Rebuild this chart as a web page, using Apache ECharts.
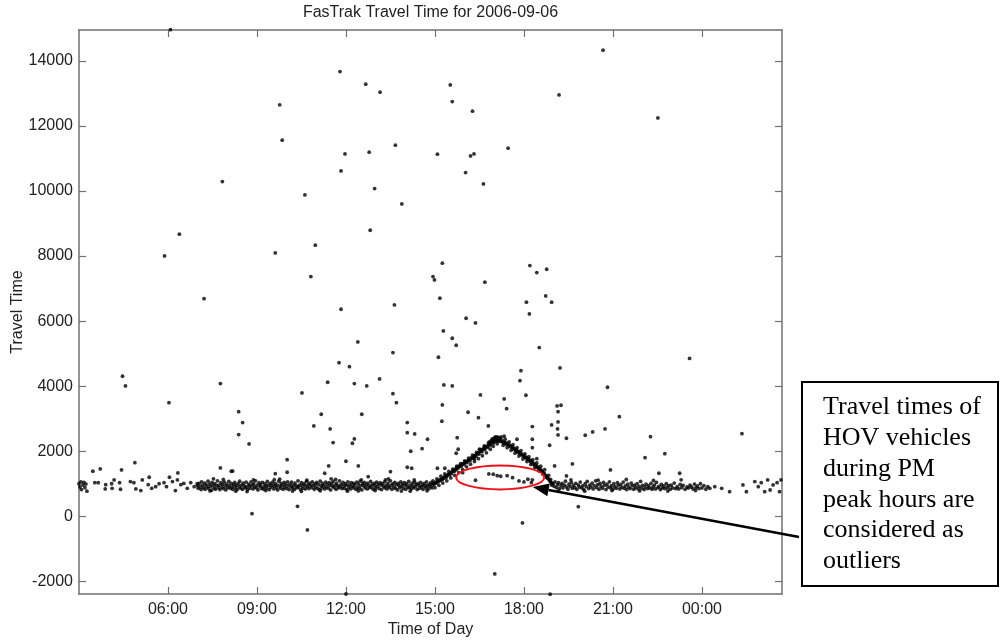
<!DOCTYPE html>
<html>
<head>
<meta charset="utf-8">
<script src="https://cdn.jsdelivr.net/npm/echarts@6/dist/echarts.min.js"></script>
<style>
html,body{margin:0;padding:0;background:#fff;}
#chart{width:1000px;height:640px;}
</style>
</head>
<body>
<div id="chart"></div>
<script>
// ---- Data (x = minutes since midnight of 2006-09-06, y = travel time) ----
const TITLE = 'FasTrak Travel Time for 2006-09-06';
const X_NAME = 'Time of Day';
const Y_NAME = 'Travel Time';
const X_TICKS = [360, 540, 720, 900, 1080, 1260, 1440];
const X_TICK_LABELS = ['06:00', '09:00', '12:00', '15:00', '18:00', '21:00', '00:00'];
const Y_TICKS = [-2000, 0, 2000, 4000, 6000, 8000, 10000, 12000, 14000];
const X_MIN = 180, X_MAX = 1602, Y_MIN = -2390, Y_MAX = 14950;

const bandEarly = [[180,1000],[182,900],[184,1060],[185,820],[188,960],[190,1040],[192,880],[194,990],[196,770],
[212,1034],[219,1034],[233,840],[234,970],[246,1000],[251,1117],[247,860],[262,1034],[264,830],[284,1065],[291,1034],
[295,840],[305,790],[308,1117],[322,1200],[320,970],[327,860],[335,910],[342,1000],[352,1034],[357,910],[363,1200],
[369,1065],[375,790],[379,1117],[386,970],[392,1010],[399,860],[406,1034],[413,910],[419,1000]];

const bandDay = [[420,940],[421,860],[423,1010],[425,900],[427,820],[428,1060],[430,950],[432,880],[434,1020],[435,830],[437,970],[439,910],
[441,1080],[442,850],[444,990],[446,920],[448,800],[449,1040],[451,960],[453,870],[455,1000],[456,830],[458,940],[460,1090],
[462,880],[463,960],[465,820],[467,1030],[469,900],[470,980],[472,850],[474,1050],[476,930],[477,810],[479,990],[481,880],
[483,1070],[484,940],[486,860],[488,1010],[490,900],[491,830],[493,970],[495,1040],[497,880],[498,950],[500,820],[502,1000],
[504,910],[505,1080],[507,860],[509,960],[511,830],[512,1020],[514,940],[516,880],[518,1050],[519,900],[521,820],[523,990],
[525,930],[526,860],[528,1060],[530,950],[532,840],[533,1000],[535,900],[537,1090],[539,870],[540,960],[542,810],[544,1030],
[546,920],[547,980],[549,850],[551,1040],[553,900],[554,830],[556,1000],[558,940],[560,870],[561,1070],[563,960],[565,820],
[567,1010],[568,890],[570,950],[572,1050],[574,840],[575,930],[577,1000],[579,870],[581,960],[582,810],[584,1080],[586,920],
[588,860],[589,1010],[591,950],[593,830],[595,1040],[596,900],[598,980],[600,850],[602,1060],[603,930],[605,820],[607,990],
[609,910],[610,1050],[612,870],[614,960],[616,830],[617,1020],[619,940],[621,880],[623,1090],[624,900],[626,960],[628,820],
[630,1030],[631,930],[633,860],[635,1000],[637,950],[638,840],[640,1070],[642,910],[644,980],[645,850],[647,1020],[649,940],
[651,880],[652,1060],[654,960],[656,830],[658,1000],[659,900],[661,1040],[663,860],[665,970],[666,820],[668,1080],[670,930],
[672,870],[673,1010],[675,950],[677,840],[679,1050],[680,900],[682,990],[684,860],[686,1030],[687,940],[689,810],[691,1000],
[693,920],[694,1070],[696,880],[698,960],[700,830],[701,1020],[703,940],[705,870],[707,1090],[708,910],[710,980],[712,850],
[714,1040],[715,930],[717,860],[719,1000],[721,950],[722,820],[724,1060],[726,900],[728,970],[729,840],[731,1030],[733,920],
[735,870],[736,1010],[738,960],[740,830],[742,1050],[743,890],[745,990],[747,860],[749,1080],[750,940],[752,810],[754,1000],
[756,930],[757,1040],[759,870],[761,960],[763,840],[764,1020],[766,950],[768,880],[770,1070],[771,900],[773,980],[775,830],
[777,1010],[778,940],[780,860],[782,1050],[784,920],[785,990],[787,850],[789,1030],[791,960],[792,820],[794,1000],[796,910],
[798,1060],[799,870],[801,950],[803,840],[805,1020],[806,930],[808,880],[810,1090],[812,960],[813,830],[815,1000],[817,900],
[819,1040],[820,860],[822,970],[824,810],[826,1010],[827,940],[829,880],[831,1060],[833,920],[834,990],[836,850],[838,1030],
[840,950],[841,830],[843,1000],[845,900],[847,1070],[848,880],[850,960],[852,840],[854,1020],[855,930],[857,870],[859,1050],
[861,910],[862,980],[864,820],[866,1000],[868,940],[869,860],[871,1040],[873,900],[875,960],[876,830],[878,1010],[880,930],
[882,880],[883,1060],[885,950],[887,840],[889,990],[890,910],[892,1030],[894,870]];

const bandEdge = [[445,780],[472,1130],[497,770],[533,1120],[558,790],[586,1140],[612,775],[641,1110],[668,785],[699,1135],
[723,770],[751,1120],[779,790],[806,1145],[832,775],[858,1115],[884,785],[452,1150],[520,760],[575,1125],[630,765],[690,1150],
[745,780],[800,1120],[850,770],[1150,780],[1175,1120],[1203,770],[1230,1110],[1258,790],[1287,1130],[1314,780],[1342,1100],
[1371,775],[1398,1120],[1427,790]];

const peakRise = [[895,960],[897,1010],[899,990],[901,1040],[903,1020],[905,1080],[907,1060],[909,1110],[911,1100],[913,1150],
[915,1130],[917,1190],[919,1170],[921,1230],[923,1200],[925,1260],[927,1290],[929,1270],[931,1330],[933,1310],[935,1370],
[937,1400],[939,1380],[941,1450],[943,1430],[945,1500],[947,1480],[949,1540],[951,1560],[953,1530],[955,1600],[957,1620],
[959,1590],[961,1660],[963,1680],[965,1650],[967,1720],[969,1740],[971,1710],[973,1790],[975,1800],[977,1780],[979,1850],
[981,1870],[983,1840],[985,1920],[987,1940],[989,1910],[991,1990],[993,2010],[995,1980],[997,2060],[999,2080],[1001,2050],
[1003,2130],[1005,2150],[1007,2120],[1009,2200],[1011,2220],[1013,2190],[1015,2260],[1017,2280],[1019,2250],[1021,2320],
[1023,2340],[1025,2300],[1027,2360],[1029,2330],[1010,2290],[1016,2380],[1020,2400],[1024,2420],[1028,2410],[1032,2380],
[1018,2150],[1026,2230],[1000,2160],[990,2060],[980,1760]];

const peakRiseB = [[896,1090],[900,880],[904,1150],[908,950],[912,1230],[916,1020],[920,1300],[924,1090],[928,1380],[932,1180],
[936,1450],[940,1260],[944,1540],[948,1340],[952,1620],[956,1430],[960,1700],[964,1520],[968,1790],[972,1600],[976,1880],
[980,1680],[984,1960],[988,1770],[992,2050],[996,1860],[1000,2140],[1004,1950],[1008,2250],[1012,2060],[1014,2330],
[1018,2350],[1022,2440],[1026,2440],[1030,2420]];

const peakFall = [[1031,2310],[1033,2350],[1035,2290],[1037,2310],[1039,2260],[1041,2280],[1043,2230],[1045,2250],[1047,2190],
[1049,2210],[1051,2160],[1053,2170],[1055,2110],[1057,2130],[1059,2070],[1061,2080],[1063,2020],[1065,2040],[1067,1980],
[1069,1990],[1071,1930],[1073,1950],[1075,1890],[1077,1900],[1079,1840],[1081,1860],[1083,1800],[1085,1810],[1087,1750],
[1089,1770],[1091,1700],[1093,1720],[1095,1650],[1097,1670],[1099,1600],[1101,1610],[1103,1550],[1105,1560],[1107,1500],
[1109,1510],[1111,1450],[1113,1460],[1115,1400],[1117,1390],[1119,1330],[1121,1320],[1123,1260],[1125,1240],[1127,1190],
[1129,1160],[1131,1120],[1133,1080],[1135,1040],[1137,1010]];

const peakFallB = [[1034,2440],[1038,2180],[1042,2370],[1046,2110],[1050,2290],[1054,2030],[1058,2200],[1062,1940],[1066,2110],
[1070,1850],[1074,2020],[1078,1760],[1082,1920],[1086,1680],[1090,1830],[1094,1590],[1098,1740],[1102,1500],[1106,1640],
[1110,1400],[1114,1540],[1118,1300],[1122,1430],[1126,1190],[1130,1260],[1134,1130],[1136,960]];

const bandEvening = [[1139,1000],[1141,920],[1143,1060],[1146,880],[1148,970],[1150,1030],[1152,850],[1155,940],[1157,1010],[1159,870],[1162,960],[1164,1080],
[1166,900],[1169,830],[1171,990],[1173,920],[1176,1040],[1178,860],[1180,950],[1183,880],[1185,1010],[1187,830],[1190,960],[1192,900],
[1194,1050],[1197,870],[1199,940],[1201,820],[1204,1000],[1206,910],[1208,1070],[1211,850],[1213,960],[1215,900],[1218,1020],[1220,840],
[1222,940],[1225,1090],[1227,880],[1229,970],[1232,830],[1234,1010],[1236,920],[1239,860],[1241,1040],[1243,950],[1246,820],[1248,990],
[1250,900],[1253,1060],[1255,870],[1257,940],[1260,830],[1262,1000],[1264,910],[1267,860],[1269,1030],[1271,950],[1274,840],[1276,980],
[1278,890],[1281,1050],[1283,860],[1285,930],[1288,820],[1290,990],[1292,900],[1295,850],[1297,1020],[1299,940],[1302,830],[1304,960],
[1306,880],[1309,1000],[1311,840],[1313,920],[1316,1070],[1318,860],[1320,950],[1323,820],[1325,900],[1327,990],[1330,850],[1332,940],
[1334,870],[1337,1010],[1339,830],[1341,900],[1344,960],[1346,840],[1348,1040],[1351,880],[1353,920],[1356,820],[1358,980],[1360,870],
[1363,930],[1365,850],[1368,1000],[1370,880],[1373,940],[1376,830],[1378,960],[1381,870],[1384,1020],[1387,850],[1390,910],[1393,840],
[1396,980],[1399,880],[1402,950],[1406,830],[1410,900],[1413,870],[1416,960],[1419,900],[1422,840],[1425,990],[1428,880],[1431,930],
[1434,850],[1437,1000],[1440,870],[1444,940],[1448,830],[1452,910],[1456,860]];

const bandLate = [[1466,910],[1480,860],[1496,757],[1523,962],[1530,757],[1547,1065],[1554,910],[1560,1034],[1567,757],
[1573,1117],[1578,808],[1584,962],[1592,1034],[1597,757],[1600,1117]];

const hovPoints = [[956,1341],[982,1107],[1009,1301],[1018,1291],[1026,1248],[1033,1230],[1046,1248],[1057,1187],
[1070,1085],[1080,1055],[1088,1138],[1095,1033],[1097,1120]];

const outliers = [[365,14960],[586,12648],[591,11562],[470,10290],[637,9880],[383,8672],[353,8004],[577,8097],[658,8333],
[649,7368],[433,6691],[708,13672],[760,13284],[789,13038],[931,13262],[935,12749],[976,12454],[820,11408],[718,11141],
[767,11193],[905,11131],[972,11080],[979,11141],[1048,11316],[710,10618],[962,10566],[998,10218],[778,10074],[833,9603],
[769,8794],[915,7780],[896,7368],[899,7266],[1001,7196],[1092,7706],[1106,7491],[910,6704],[1085,6581],[710,6365],
[818,6497],[1091,6221],[1240,14330],[1151,12955],[1351,12248],[1126,7595],[1124,6774],[1136,6581],[268,4305],[274,4007],
[466,4078],[362,3493],[503,3217],[511,2879],[503,2510],[524,2223],[631,3791],[655,2777],[293,1649],[208,1384],[223,1454],
[266,1424],[380,1331],[466,1485],[488,1384],[491,1390],[601,1741],[601,1353],[577,1310],[530,80],[622,307],[642,-421],
[963,6088],[982,5944],[744,5360],[917,5698],[935,5473],[943,5258],[907,4889],[815,5031],[706,4723],[727,4600],[683,4120],
[737,4078],[762,4007],[788,4222],[815,3770],[822,3493],[918,4037],[935,4007],[915,3422],[914,2921],[992,3730],[967,3198],
[988,3032],[1008,2777],[1040,3607],[1045,3309],[1074,4477],[1072,4170],[1084,3721],[1111,5185],[670,3136],[688,2685],
[694,2264],[737,2377],[733,2245],[752,3136],[720,1691],[745,1547],[685,1547],[677,1322],[844,2879],[844,2571],[859,2531],
[851,1999],[874,2079],[885,2368],[844,1507],[853,1476],[810,1371],[765,1218],[905,1476],[920,1476],[945,2417],[943,1937],
[947,2060],[1097,2368],[1097,2109],[1066,2368],[1040,2460],[1077,-206],[1021,-1774],[720,-2390],[1153,4560],[1249,3967],
[1415,4852],[1273,3063],[1147,3392],[1155,3413],[1149,3217],[1149,2900],[1136,2808],[1148,2685],[1149,2500],[1166,2398],
[1132,2183],[1097,2756],[1204,2491],[1219,2592],[1244,2685],[1336,2448],[1365,1925],[1325,1802],[1521,2540],[1178,1608],
[1142,1547],[1106,1772],[1255,1424],[1166,1239],[1353,1322],[1395,1322],[1190,295],[1133,-2398]];

const NOTE_LINES = ['Travel times of', 'HOV vehicles', 'during PM', 'peak hours are', 'considered as', 'outliers'];
const ELLIPSE_CENTER = [1032, 1195];
const ARROW_TIP = [1098, 900];

// ---- Chart ----
const FONT = '"Liberation Sans", Arial, sans-serif';
const AXIS_COLOR = '#707070';
const chart = echarts.init(document.getElementById('chart'), null, {renderer: 'canvas'});
const fmtX = v => { const i = X_TICKS.indexOf(v); return i >= 0 ? X_TICK_LABELS[i] : ''; };
const fmtY = v => String(v);

const allPoints = [].concat(bandEarly, bandDay, bandEdge, peakRise, peakRiseB, peakFall, peakFallB, bandEvening, bandLate, hovPoints, outliers);

const grid = {left: 79, top: 30, width: 703, height: 564, containLabel: false, outerBoundsMode: 'none'};
const tickStyle = {show: true, inside: true, length: 7, lineStyle: {color: AXIS_COLOR, width: 1.2}};

chart.setOption({
  animation: false,
  backgroundColor: '#fff',
  grid: grid,
  xAxis: [
    {type: 'value', min: X_MIN, max: X_MAX, position: 'bottom',
     name: X_NAME, nameLocation: 'middle', nameGap: 28, nameMoveOverlap: false,
     nameTextStyle: {fontFamily: FONT, fontSize: 16, color: '#222'},
     axisLine: {show: true, onZero: false, lineStyle: {color: AXIS_COLOR, width: 1.5}},
     axisTick: Object.assign({customValues: X_TICKS}, tickStyle),
     axisLabel: {customValues: X_TICKS, formatter: fmtX, fontFamily: FONT, fontSize: 16, color: '#222', margin: 8},
     splitLine: {show: false}},
    {type: 'value', min: X_MIN, max: X_MAX, position: 'top',
     axisLine: {show: true, onZero: false, lineStyle: {color: AXIS_COLOR, width: 1.5}},
     axisTick: Object.assign({customValues: X_TICKS}, tickStyle),
     axisLabel: {show: false}, splitLine: {show: false}}
  ],
  yAxis: [
    {type: 'value', min: Y_MIN, max: Y_MAX, position: 'left',
     name: Y_NAME, nameLocation: 'middle', nameGap: 53, nameMoveOverlap: false,
     nameTextStyle: {fontFamily: FONT, fontSize: 16, color: '#222'},
     axisLine: {show: true, onZero: false, lineStyle: {color: AXIS_COLOR, width: 1.5}},
     axisTick: Object.assign({customValues: Y_TICKS}, tickStyle),
     axisLabel: {customValues: Y_TICKS, formatter: fmtY, fontFamily: FONT, fontSize: 16, color: '#222', margin: 6},
     splitLine: {show: false}},
    {type: 'value', min: Y_MIN, max: Y_MAX, position: 'right',
     axisLine: {show: true, onZero: false, lineStyle: {color: AXIS_COLOR, width: 1.5}},
     axisTick: Object.assign({customValues: Y_TICKS}, tickStyle),
     axisLabel: {show: false}, splitLine: {show: false}}
  ],
  series: [{
    type: 'scatter', xAxisIndex: 0, yAxisIndex: 0,
    data: allPoints, symbol: 'circle', symbolSize: 3.8, clip: false,
    itemStyle: {color: '#000'}, silent: true
  }]
});

const c = chart.convertToPixel({xAxisIndex: 0, yAxisIndex: 0}, ELLIPSE_CENTER);
const tip = chart.convertToPixel({xAxisIndex: 0, yAxisIndex: 0}, ARROW_TIP);
const tail = [799, 537];
const ang = Math.atan2(tip[1] - tail[1], tip[0] - tail[0]);
const headLen = 16, headW = 6.5;
const bx = tip[0] - headLen * Math.cos(ang), by = tip[1] - headLen * Math.sin(ang);
const nx = -Math.sin(ang), ny = Math.cos(ang);

chart.setOption({
  graphic: [
    {type: 'text', x: 430.5, y: 13, style: {text: TITLE, fontFamily: FONT, fontSize: 16, fill: '#222', align: 'center', verticalAlign: 'middle'}},
    {type: 'ellipse', shape: {cx: c[0], cy: c[1], rx: 44, ry: 12}, style: {fill: 'none', stroke: '#e8141a', lineWidth: 2}, z: 10},
    {type: 'line', shape: {x1: tail[0], y1: tail[1], x2: bx, y2: by}, style: {stroke: '#000', lineWidth: 2.5}, z: 10},
    {type: 'polygon', shape: {points: [[tip[0], tip[1]], [bx + nx * headW, by + ny * headW], [bx - nx * headW, by - ny * headW]]}, style: {fill: '#000'}, z: 10},
    {type: 'rect', shape: {x: 802, y: 382, width: 196, height: 204}, style: {fill: '#fff', stroke: '#000', lineWidth: 2}, z: 11},
    {type: 'text', x: 823, y: 392, z: 12, style: {text: NOTE_LINES.join('\n'), fontFamily: '"Liberation Serif", "Times New Roman", serif', fontSize: 26, lineHeight: 30.8, fill: '#000', align: 'left', verticalAlign: 'top'}}
  ]
});
</script>
</body>
</html>
